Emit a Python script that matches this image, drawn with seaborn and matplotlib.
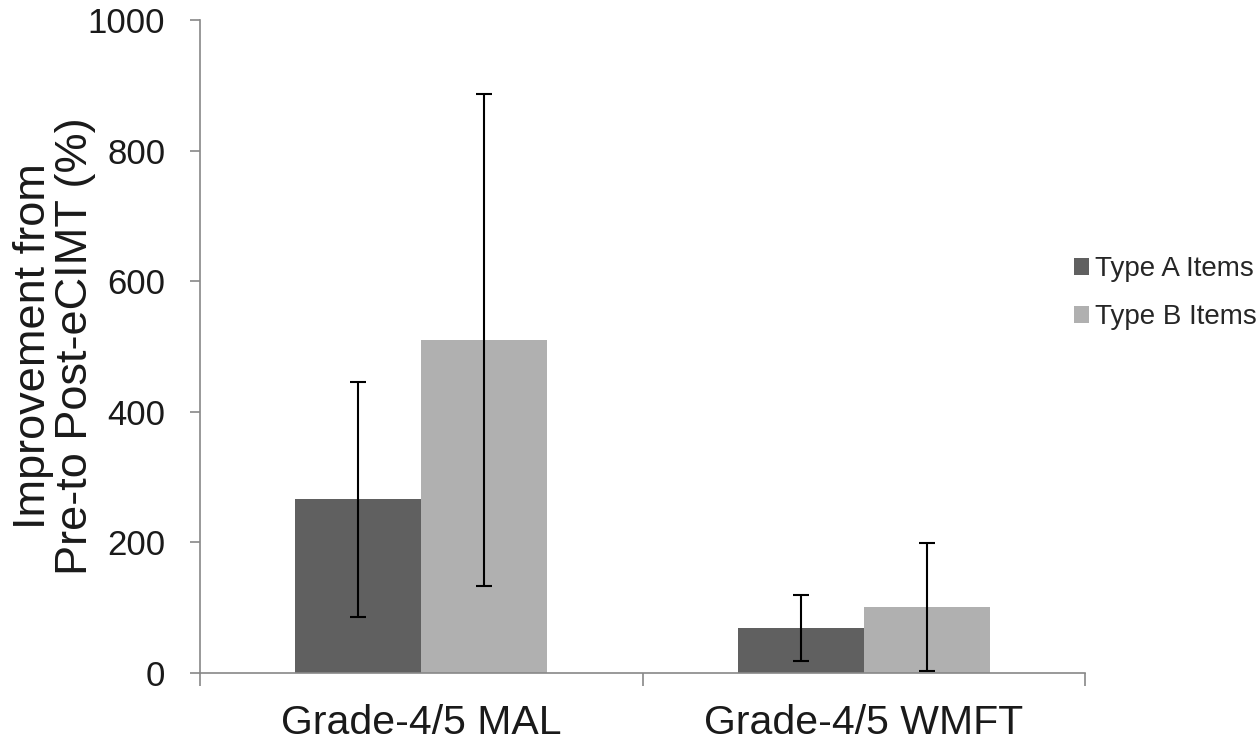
import matplotlib
matplotlib.use("Agg")
import matplotlib.pyplot as plt
import seaborn as sns
import pandas as pd
import numpy as np
from matplotlib.patches import Patch

categories = ["Grade-4/5 MAL", "Grade-4/5 WMFT"]
series = ["Type A Items", "Type B Items"]
type_a = [266, 69]
type_b = [510, 101]
err_a = [180, 51]
err_b = [377, 98]
colors = ["#606060", "#b0b0b0"]

sns.set_theme(style="white")
plt.rcParams['font.family'] = ['Liberation Sans', 'DejaVu Sans']

df = pd.DataFrame({
    "category": categories * 2,
    "series": [series[0]] * 2 + [series[1]] * 2,
    "value": type_a + type_b,
})
errs = {(series[0], c): e for c, e in zip(categories, err_a)}
errs.update({(series[1], c): e for c, e in zip(categories, err_b)})

fig = plt.figure(figsize=(12.58, 7.44), dpi=100)
ax = fig.add_axes([0.159, 0.0954, 0.8625 - 0.159, 0.973 - 0.0954])

sns.barplot(data=df, x="category", y="value", hue="series", order=categories,
            hue_order=series, palette=colors, width=0.57, saturation=1,
            errorbar=None, ax=ax, legend=False, linewidth=0)

for cont, s in zip(ax.containers, series):
    for patch, c in zip(cont.patches, categories):
        xc = patch.get_x() + patch.get_width() / 2
        h = patch.get_height()
        ax.errorbar(xc, h, yerr=errs[(s, c)], fmt="none", ecolor="black",
                    elinewidth=1.5, capsize=6, capthick=1.5)

ax.set_xlim(-0.5, 1.5)
ax.set_ylim(0, 1000)
ax.set_yticks([0, 200, 400, 600, 800, 1000])
ax.set_xlabel("")
ax.set_ylabel("Improvement from\nPre-to Post-eCIMT (%)", fontsize=32.5, linespacing=1.05,
              color="#1a1a1a")
ax.yaxis.set_label_coords(-0.117, 0.5)
ax.tick_params(axis="y", labelsize=25, length=7, width=1.2, color="#888888",
               direction="out", left=True, pad=18, labelcolor="#1a1a1a")
ax.tick_params(axis="x", labelsize=29.5, length=0, pad=22, labelcolor="#1a1a1a")
ax.set_xticks([-0.5, 0.5, 1.5], minor=True)
ax.tick_params(axis="x", which="minor", length=9, width=1.2, color="#888888",
               direction="out", bottom=True)

for side in ["top", "right"]:
    ax.spines[side].set_visible(False)
for side in ["left", "bottom"]:
    ax.spines[side].set_color("#888888")
    ax.spines[side].set_linewidth(1.2)

handles = [Patch(facecolor=c, edgecolor="none", label=s) for c, s in zip(colors, series)]
fig.legend(handles=handles, loc="center left", bbox_to_anchor=(0.834, 0.606),
           frameon=False, fontsize=20, handlelength=0.55, handleheight=0.55,
           handletextpad=0.2, labelspacing=0.8)

fig.savefig("out.png", dpi=100)
